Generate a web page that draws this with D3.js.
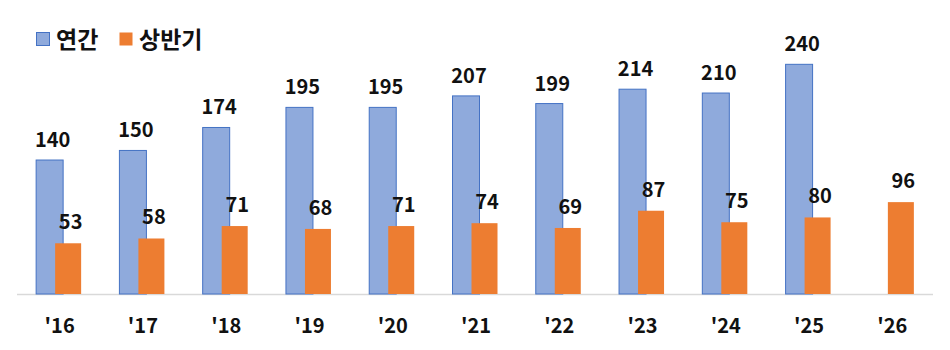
<!DOCTYPE html>
<html>
<head>
<meta charset="utf-8">
<script src="https://cdn.jsdelivr.net/npm/d3@7"></script>
<style>
  body { margin: 0; background: #fff; }
  svg { display: block; font-family: "Noto Sans CJK KR", "Noto Sans", sans-serif; }
</style>
</head>
<body>
<svg class="chart" width="950" height="350"></svg>
<script>
var years = ["'16", "'17", "'18", "'19", "'20", "'21", "'22", "'23", "'24", "'25", "'26"];
var annual = [140, 150, 174, 195, 195, 207, 199, 214, 210, 240, null];
var firstHalf = [53, 58, 71, 68, 71, 74, 69, 87, 75, 80, 96];
var seriesNames = ["연간", "상반기"];

var svg = d3.select("svg.chart");
var baseY = 294;

var x = d3.scaleBand().domain(years).range([17, 933]);
var y = d3.scaleLinear().domain([0, 250]).range([baseY, baseY - 250 * 0.957]);

// baseline
svg.append("line")
    .attr("x1", 17).attr("x2", 933)
    .attr("y1", baseY + 0.5).attr("y2", baseY + 0.5)
    .attr("stroke", "#d9d9d9").attr("stroke-width", 1.5);

function center(d) { return x(d) + x.bandwidth() / 2; }

var blueData = years.map(function(d, i) { return {year: d, v: annual[i]}; })
    .filter(function(d) { return d.v != null; });
var orangeData = years.map(function(d, i) { return {year: d, v: firstHalf[i]}; });

svg.append("g").selectAll("rect")
    .data(blueData)
    .enter().append("rect")
    .attr("x", function(d) { return center(d.year) - 22.5; })
    .attr("width", 27)
    .attr("y", function(d) { return y(d.v); })
    .attr("height", function(d) { return baseY - y(d.v); })
    .attr("fill", "#8faadc")
    .attr("stroke", "#4472c4")
    .attr("stroke-width", 1);

svg.append("g").selectAll("rect")
    .data(orangeData)
    .enter().append("rect")
    .attr("x", function(d) { return center(d.year) - 3.5; })
    .attr("width", 26)
    .attr("y", function(d) { return y(d.v); })
    .attr("height", function(d) { return baseY - y(d.v); })
    .attr("fill", "#ed7d31");

// value labels
svg.append("g").selectAll("text")
    .data(blueData)
    .enter().append("text")
    .attr("x", function(d) { return center(d.year) - 6; })
    .attr("y", function(d) { return y(d.v) - 13; })
    .attr("text-anchor", "middle")
    .attr("font-size", 20).attr("font-weight", "bold").attr("fill", "#111")
    .text(function(d) { return d.v; });

svg.append("g").selectAll("text")
    .data(orangeData)
    .enter().append("text")
    .attr("x", function(d) { return center(d.year) + 12; })
    .attr("y", function(d) { return y(d.v) - 14; })
    .attr("text-anchor", "middle")
    .attr("font-size", 20).attr("font-weight", "bold").attr("fill", "#111")
    .text(function(d) { return d.v; });

// x labels
svg.append("g").selectAll("text")
    .data(years)
    .enter().append("text")
    .attr("x", function(d) { return center(d) + 1; })
    .attr("y", 333)
    .attr("text-anchor", "middle")
    .attr("font-size", 20).attr("font-weight", "bold").attr("fill", "#111")
    .text(function(d) { return d; });

// legend
var legend = [
  {name: seriesNames[0], x: 36, fill: "#8faadc", stroke: "#4472c4"},
  {name: seriesNames[1], x: 119, fill: "#ed7d31", stroke: "none"}
];
var lg = svg.append("g").selectAll("g")
    .data(legend)
    .enter().append("g");
lg.append("rect")
    .attr("x", function(d) { return d.x + 0.5; })
    .attr("y", 32.5)
    .attr("width", 13).attr("height", 13)
    .attr("fill", function(d) { return d.fill; })
    .attr("stroke", function(d) { return d.stroke; });
lg.append("text")
    .attr("x", function(d) { return d.x + 20; })
    .attr("y", 48)
    .attr("font-size", 23).attr("font-weight", "bold").attr("fill", "#111")
    .text(function(d) { return d.name; });
</script>
</body>
</html>
